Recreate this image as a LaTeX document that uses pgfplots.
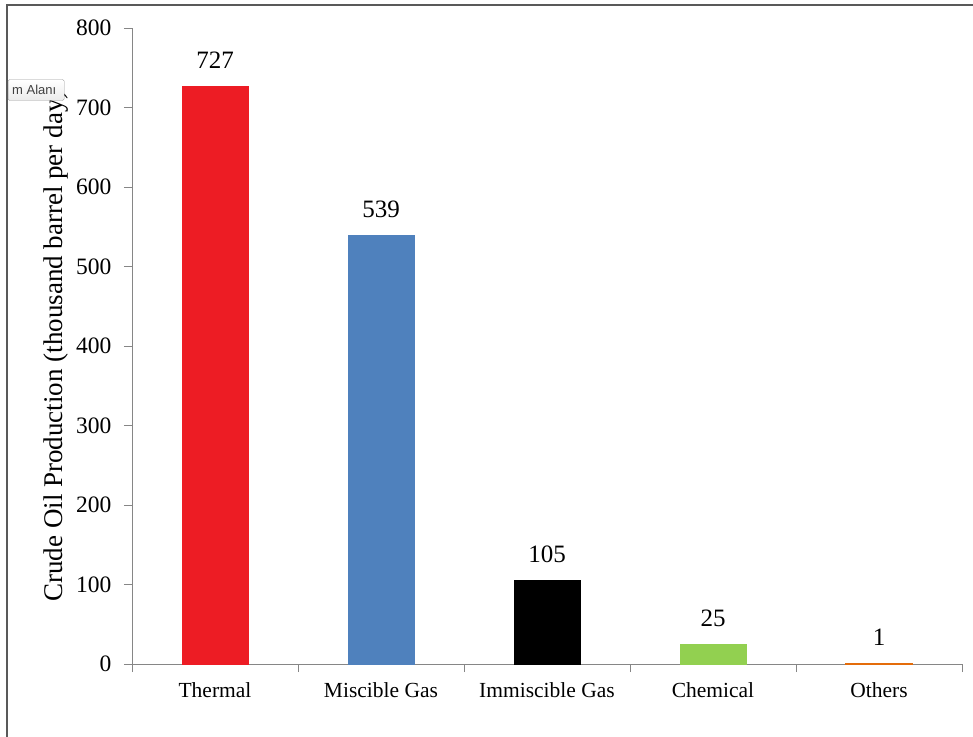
\documentclass[border=0pt]{standalone}
\usepackage{fontspec}
\setmainfont{Liberation Serif}
\newfontfamily\uifont{Liberation Sans}
\usepackage{pgfplots}
\pgfplotsset{compat=1.18}

\definecolor{barred}{HTML}{ED1C24}
\definecolor{barblue}{HTML}{4F81BD}
\definecolor{bargreen}{HTML}{92D050}
\definecolor{barorange}{HTML}{E46C0A}
\definecolor{axisgray}{HTML}{868686}

\begin{document}
\begin{tikzpicture}[x=1pt,y=1pt]
\useasboundingbox (0,0) rectangle (973,736);
% outer frame (only left and top edges visible)
\draw[color=black!65, line width=1.6pt] (7,-5) -- (7,731) -- (980,731);

\begin{axis}[
    at={(132pt,72pt)}, anchor=south west,
    scale only axis,
    width=830pt, height=636pt,
    xmin=-0.5, xmax=4.5,
    ymin=0, ymax=800,
    axis lines*=left,
    axis line style={axisgray, line width=0.8pt},
    every tick/.style={axisgray, line width=0.8pt},
    tick align=outside,
    major tick length=8pt,
    xtick={-0.5,0.5,1.5,2.5,3.5,4.5},
    x tick label as interval,
    xticklabels={Thermal,Miscible Gas,Immiscible Gas,Chemical,Others},
    ytick={0,100,...,800},
    /pgf/number format/assume math mode=true,
    xticklabel style={font=\fontsize{21.5}{25}\selectfont, text=black, yshift=-7pt},
    yticklabel style={font=\fontsize{23.5}{27}\selectfont, text=black, xshift=-9pt},
    ylabel={Crude Oil Production (thousand barrel per day)},
    ylabel style={font=\fontsize{27}{31}\selectfont, yshift=1pt},
    ybar, bar width=66pt, bar shift=0pt,
    nodes near coords,
    every node near coord/.append style={font=\fontsize{25}{29}\selectfont, text=black, yshift=14pt},
    clip=false,
]
\addplot[fill=barred, draw=barred] coordinates {(0,727)};
\addplot[fill=barblue, draw=barblue] coordinates {(1,539)};
\addplot[fill=black, draw=black] coordinates {(2,105)};
\addplot[fill=bargreen, draw=bargreen] coordinates {(3,25)};
\addplot[fill=barorange, draw=barorange, line width=1.2pt] coordinates {(4,1)};
\end{axis}

% leftover tooltip from the source application
\node[draw=black!40, top color=white, bottom color=black!8, rounded corners=1.5pt,
      minimum width=56pt, minimum height=21pt, inner sep=1pt, anchor=west,
      font=\uifont\fontsize{13}{15}\selectfont, text=black!75, align=left]
      at (8,646) {m Alanı\hspace*{4pt}};
\end{tikzpicture}
\end{document}
